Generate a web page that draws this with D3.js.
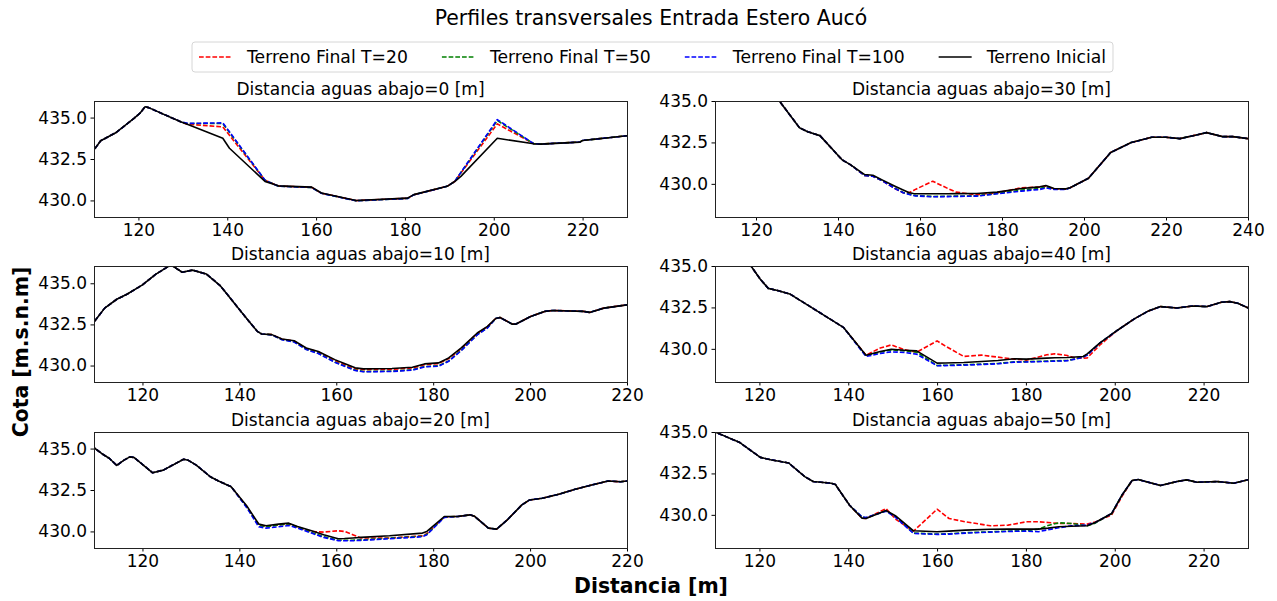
<!DOCTYPE html>
<html>
<head>
<meta charset="utf-8">
<script src="https://cdn.jsdelivr.net/npm/d3@7"></script>
<style>
  body { margin: 0; background: #fff; }
  svg text { font-family: "DejaVu Sans", sans-serif; fill: #000; }
</style>
</head>
<body>
<svg id="fig" width="1277" height="601"></svg>
<script>
// ---- Cross-section data: abscissa [m] and elevation [m.s.n.m] per profile ----

// Profile at 0 m downstream
const x_d0 = [108, 110, 111.5, 115, 119, 120.3, 121.5, 122.3, 129.5, 131, 139, 140.5, 148.5, 151.5, 159, 161.2, 169, 180.6, 182, 189.5, 191.2, 192.6, 200.8, 209, 210.6, 219.4, 220, 230, 232];
const inicial_d0 = [432.6, 433.05, 433.6, 434.1, 434.95, 435.25, 435.65, 435.6, 434.75, 434.6, 433.75, 433.15, 431.15, 430.88, 430.8, 430.45, 430.0, 430.14, 430.35, 430.85, 431.14, 431.45, 433.75, 433.42, 433.4, 433.52, 433.62, 433.9, 433.95];
const t20_d0 = [432.6, 433.05, 433.6, 434.1, 434.95, 435.25, 435.65, 435.6, 434.75, 434.6, 434.44, 433.93, 431.22, 430.87, 430.79, 430.44, 429.99, 430.13, 430.34, 430.85, 431.14, 431.65, 434.62, 433.42, 433.4, 433.52, 433.62, 433.9, 433.95];
const t50_d0 = [432.6, 433.05, 433.6, 434.1, 434.95, 435.25, 435.65, 435.6, 434.75, 434.64, 434.64, 434.1, 431.22, 430.86, 430.78, 430.43, 429.98, 430.12, 430.34, 430.85, 431.14, 431.68, 434.82, 433.42, 433.4, 433.52, 433.62, 433.9, 433.95];
const t100_d0 = [432.6, 433.05, 433.6, 434.1, 434.95, 435.25, 435.65, 435.6, 434.75, 434.65, 434.68, 434.14, 431.22, 430.86, 430.78, 430.43, 429.98, 430.12, 430.34, 430.85, 431.14, 431.69, 434.88, 433.42, 433.4, 433.52, 433.62, 433.9, 433.95];

// Profile at 10 m downstream
const x_d10 = [108, 110.2, 112.2, 114.7, 116.8, 120, 122.7, 125.2, 126.1, 128.2, 130.3, 133.2, 136.1, 139.5, 142, 143.7, 144.6, 146.7, 148.8, 151.3, 153.8, 156.3, 159.7, 162.2, 163.9, 165.6, 171.5, 175.7, 178.2, 181.1, 183.2, 185.8, 189.1, 191.2, 192.9, 193.8, 196.3, 197.1, 200.1, 203, 204.7, 211, 212.3, 215.2, 220, 222];
const inicial_d10 = [432.2, 432.72, 433.49, 434.03, 434.33, 434.9, 435.54, 436.0, 436.08, 435.67, 435.8, 435.56, 434.84, 433.59, 432.68, 432.08, 431.92, 431.88, 431.61, 431.51, 431.07, 430.85, 430.36, 430.06, 429.86, 429.8, 429.82, 429.9, 430.1, 430.16, 430.46, 431.07, 431.98, 432.38, 432.86, 432.92, 432.52, 432.52, 432.98, 433.29, 433.35, 433.29, 433.23, 433.49, 433.69, 433.72];
const t20_d10 = [432.2, 432.72, 433.49, 434.03, 434.33, 434.9, 435.54, 436.0, 436.08, 435.67, 435.8, 435.56, 434.84, 433.59, 432.68, 432.08, 431.92, 431.88, 431.6, 431.49, 431.04, 430.82, 430.31, 430.0, 429.8, 429.75, 429.77, 429.85, 430.05, 430.12, 430.42, 431.03, 431.95, 432.36, 432.86, 432.92, 432.52, 432.52, 432.98, 433.29, 433.35, 433.29, 433.23, 433.49, 433.69, 433.72];
const t50_d10 = [432.2, 432.72, 433.49, 434.03, 434.33, 434.9, 435.54, 436.0, 436.08, 435.67, 435.8, 435.56, 434.84, 433.59, 432.68, 432.08, 431.92, 431.87, 431.58, 431.45, 430.99, 430.75, 430.22, 429.92, 429.72, 429.64, 429.66, 429.74, 429.94, 429.98, 430.28, 430.93, 431.88, 432.3, 432.86, 432.92, 432.52, 432.52, 432.98, 433.29, 433.35, 433.29, 433.23, 433.49, 433.69, 433.72];
const t100_d10 = [432.2, 432.72, 433.49, 434.03, 434.33, 434.9, 435.54, 436.0, 436.08, 435.67, 435.8, 435.56, 434.84, 433.59, 432.68, 432.08, 431.92, 431.86, 431.57, 431.43, 430.97, 430.73, 430.2, 429.9, 429.7, 429.62, 429.64, 429.72, 429.92, 429.96, 430.26, 430.91, 431.87, 432.28, 432.86, 432.92, 432.52, 432.52, 432.98, 433.29, 433.35, 433.29, 433.23, 433.49, 433.69, 433.72];

// Profile at 20 m downstream
const x_d20 = [108, 110, 111.9, 113.2, 114.7, 116.2, 117.4, 118.3, 122.1, 124.3, 128.5, 129.4, 131.1, 134, 135.7, 138.3, 141.5, 144, 145.5, 148.1, 150.2, 152, 154.9, 157.4, 160.4, 161.7, 163.4, 165.1, 171, 177.8, 178.7, 182.3, 185.1, 187.6, 188.5, 191.4, 193.1, 195.3, 198.3, 199.9, 202.5, 205.9, 209.3, 212.7, 216.1, 218.6, 220, 222];
const inicial_d20 = [435.2, 435.05, 434.64, 434.4, 433.98, 434.3, 434.5, 434.46, 433.54, 433.7, 434.36, 434.3, 434.0, 433.3, 433.04, 432.7, 431.55, 430.45, 430.34, 430.44, 430.5, 430.3, 430.04, 429.8, 429.56, 429.57, 429.6, 429.64, 429.74, 429.9, 430.0, 430.9, 430.9, 431.0, 430.92, 430.2, 430.14, 430.7, 431.6, 431.9, 432.0, 432.24, 432.54, 432.8, 433.04, 433.0, 433.04, 433.08];
const t20_d20 = [435.2, 435.05, 434.64, 434.4, 433.98, 434.3, 434.5, 434.46, 433.54, 433.7, 434.36, 434.3, 434.0, 433.3, 433.04, 432.7, 431.5, 430.4, 430.3, 430.4, 430.46, 430.26, 430.0, 429.96, 430.04, 430.0, 429.8, 429.6, 429.6, 429.74, 429.86, 430.88, 430.9, 431.0, 430.92, 430.2, 430.14, 430.7, 431.6, 431.9, 432.0, 432.24, 432.54, 432.8, 433.04, 433.0, 433.04, 433.08];
const t50_d20 = [435.2, 435.05, 434.64, 434.4, 433.98, 434.3, 434.5, 434.46, 433.54, 433.7, 434.36, 434.3, 434.0, 433.3, 433.04, 432.7, 431.48, 430.35, 430.28, 430.38, 430.46, 430.25, 429.94, 429.68, 429.47, 429.47, 429.47, 429.49, 429.59, 429.71, 429.83, 430.87, 430.9, 431.0, 430.92, 430.2, 430.14, 430.7, 431.6, 431.9, 432.0, 432.24, 432.54, 432.8, 433.04, 433.0, 433.04, 433.08];
const t100_d20 = [435.2, 435.05, 434.64, 434.4, 433.98, 434.3, 434.5, 434.46, 433.54, 433.7, 434.36, 434.3, 434.0, 433.3, 433.04, 432.7, 431.45, 430.28, 430.2, 430.28, 430.36, 430.2, 429.9, 429.64, 429.44, 429.44, 429.44, 429.46, 429.56, 429.68, 429.8, 430.85, 430.9, 431.0, 430.92, 430.2, 430.14, 430.7, 431.6, 431.9, 432.0, 432.24, 432.54, 432.8, 433.04, 433.0, 433.04, 433.08];

// Profile at 30 m downstream
const x_d30 = [118, 125.7, 130.6, 132.6, 135.6, 141, 143, 146.5, 148.5, 151, 153.9, 155.9, 157.4, 158.4, 159, 163.1, 166.8, 168.8, 173.8, 178.8, 184.7, 189.2, 190.7, 192.7, 195.6, 196.6, 201.1, 206.5, 211.5, 216.5, 220, 223.4, 227.4, 229.9, 233.8, 236.3, 240, 242];
const inicial_d30 = [437.5, 435.0, 433.39, 433.15, 432.91, 431.45, 431.16, 430.56, 430.52, 430.21, 429.86, 429.63, 429.46, 429.42, 429.4, 429.4, 429.4, 429.41, 429.42, 429.5, 429.72, 429.82, 429.9, 429.72, 429.7, 429.76, 430.34, 431.89, 432.49, 432.81, 432.81, 432.73, 432.95, 433.09, 432.85, 432.85, 432.73, 432.7];
const t20_d30 = [437.5, 435.0, 433.39, 433.15, 432.91, 431.45, 431.16, 430.5, 430.46, 430.16, 429.72, 429.46, 429.48, 429.6, 429.68, 430.16, 429.72, 429.5, 429.34, 429.46, 429.76, 429.8, 429.86, 429.7, 429.68, 429.76, 430.34, 431.89, 432.49, 432.81, 432.81, 432.73, 432.95, 433.09, 432.85, 432.85, 432.73, 432.7];
const t50_d30 = [437.5, 435.0, 433.39, 433.15, 432.91, 431.45, 431.16, 430.51, 430.47, 430.17, 429.74, 429.48, 429.38, 429.32, 429.29, 429.24, 429.25, 429.26, 429.28, 429.42, 429.62, 429.72, 429.8, 429.68, 429.67, 429.76, 430.34, 431.89, 432.49, 432.81, 432.81, 432.73, 432.95, 433.09, 432.85, 432.85, 432.73, 432.7];
const t100_d30 = [437.5, 435.0, 433.39, 433.15, 432.91, 431.45, 431.16, 430.5, 430.46, 430.16, 429.72, 429.46, 429.36, 429.3, 429.27, 429.22, 429.23, 429.24, 429.26, 429.4, 429.56, 429.66, 429.76, 429.66, 429.66, 429.76, 430.34, 431.89, 432.49, 432.81, 432.81, 432.73, 432.95, 433.09, 432.85, 432.85, 432.73, 432.7];

// Profile at 40 m downstream
const x_d40 = [116, 118.1, 120.2, 122, 124.3, 127, 138, 138.9, 144, 147.2, 149.7, 152.7, 155.4, 160, 161.8, 166, 170, 173.7, 177.4, 180.1, 184.7, 186.5, 189.3, 191.1, 192.9, 193.8, 196.6, 200.7, 204.4, 207.6, 210.3, 214, 217.6, 220.8, 224, 225.9, 227.7, 230.2, 232];
const inicial_d40 = [435.8, 435.0, 434.2, 433.65, 433.51, 433.29, 431.45, 431.3, 429.62, 429.84, 429.98, 429.92, 429.88, 429.14, 429.15, 429.18, 429.24, 429.3, 429.4, 429.38, 429.44, 429.46, 429.48, 429.51, 429.54, 429.7, 430.34, 431.14, 431.81, 432.29, 432.55, 432.47, 432.59, 432.55, 432.81, 432.85, 432.75, 432.45, 432.2];
const t20_d40 = [435.8, 435.0, 434.2, 433.65, 433.51, 433.29, 431.45, 431.3, 429.62, 430.05, 430.24, 429.94, 429.8, 430.48, 430.18, 429.54, 429.62, 429.5, 429.38, 429.32, 429.64, 429.7, 429.6, 429.44, 429.44, 429.45, 430.22, 431.14, 431.81, 432.29, 432.55, 432.47, 432.59, 432.55, 432.81, 432.85, 432.75, 432.45, 432.2];
const t50_d40 = [435.8, 435.0, 434.2, 433.65, 433.51, 433.29, 431.45, 431.3, 429.58, 429.8, 429.94, 429.88, 429.8, 429.0, 429.01, 429.04, 429.08, 429.12, 429.22, 429.23, 429.26, 429.28, 429.3, 429.4, 429.52, 429.64, 430.34, 431.14, 431.81, 432.29, 432.55, 432.47, 432.59, 432.55, 432.81, 432.85, 432.75, 432.45, 432.2];
const t100_d40 = [435.8, 435.0, 434.2, 433.65, 433.51, 433.29, 431.45, 431.3, 429.54, 429.72, 429.82, 429.78, 429.68, 428.98, 428.99, 429.02, 429.06, 429.1, 429.2, 429.21, 429.24, 429.26, 429.28, 429.38, 429.5, 429.62, 430.34, 431.14, 431.81, 432.29, 432.55, 432.47, 432.59, 432.55, 432.81, 432.85, 432.75, 432.45, 432.2];

// Profile at 50 m downstream
const x_d50 = [108, 110, 115.6, 120.2, 122.5, 126.6, 130.2, 132.1, 136.2, 137.1, 140.3, 143.1, 144, 148.5, 150.6, 154.7, 160, 162.7, 166.4, 172, 176, 180.1, 182.8, 185, 187.4, 190.2, 193.8, 195.6, 199.3, 201.6, 203.9, 205.3, 210.3, 214, 216.2, 218.5, 223.1, 226.8, 230.2, 232];
const inicial_d50 = [435.25, 435.0, 434.36, 433.47, 433.33, 433.13, 432.31, 432.01, 431.91, 431.83, 430.58, 429.8, 429.78, 430.26, 429.95, 429.04, 428.98, 429.02, 429.08, 429.13, 429.14, 429.14, 429.14, 429.2, 429.28, 429.31, 429.34, 429.54, 430.08, 431.18, 432.07, 432.13, 431.77, 432.01, 432.11, 431.97, 432.01, 431.91, 432.13, 432.2];
const t20_d50 = [435.25, 435.0, 434.36, 433.47, 433.33, 433.13, 432.31, 432.01, 431.91, 431.83, 430.58, 429.8, 429.78, 430.38, 429.75, 429.02, 430.34, 429.78, 429.58, 429.34, 429.38, 429.58, 429.58, 429.54, 429.48, 429.48, 429.44, 429.56, 430.0, 431.1, 432.07, 432.13, 431.77, 432.01, 432.11, 431.97, 432.01, 431.91, 432.13, 432.2];
const t50_d50 = [435.25, 435.0, 434.36, 433.47, 433.33, 433.13, 432.31, 432.01, 431.91, 431.83, 430.58, 429.86, 429.82, 430.24, 429.9, 428.9, 428.84, 428.86, 428.92, 428.98, 429.02, 429.04, 429.14, 429.36, 429.52, 429.48, 429.34, 429.5, 430.08, 431.18, 432.07, 432.13, 431.77, 432.01, 432.11, 431.97, 432.01, 431.91, 432.13, 432.2];
const t100_d50 = [435.25, 435.0, 434.36, 433.47, 433.33, 433.13, 432.31, 432.01, 431.91, 431.83, 430.58, 429.88, 429.84, 430.22, 429.86, 428.88, 428.82, 428.84, 428.9, 428.96, 429.0, 429.02, 428.98, 429.1, 429.22, 429.34, 429.38, 429.54, 430.08, 431.18, 432.07, 432.13, 431.77, 432.01, 432.11, 431.97, 432.01, 431.91, 432.13, 432.2];

// Tick values and labels
const xTicksTo220 = [120, 140, 160, 180, 200, 220];
const xTicksTo240 = [120, 140, 160, 180, 200, 220, 240];
const yTickValues = [430.0, 432.5, 435.0];
const seriesLabels = ["Terreno Final T=20", "Terreno Final T=50", "Terreno Final T=100", "Terreno Inicial"];
const seriesColors = ["#ff0000", "#008000", "#0000ff", "#000000"];

// ---- Layout ----
const svg = d3.select("#fig");
const colX = [94, 715];
const rowY = [101, 266, 432];
const plotW = 533, plotH = 116;

const panels = [
  { title: "Distancia aguas abajo=0 [m]",  col: 0, row: 0, x: x_d0,  series: [t20_d0,  t50_d0,  t100_d0,  inicial_d0],  xDom: [110, 230], yDom: [429.0, 436.0],  xt: xTicksTo220 },
  { title: "Distancia aguas abajo=30 [m]", col: 1, row: 0, x: x_d30, series: [t20_d30, t50_d30, t100_d30, inicial_d30], xDom: [110, 240], yDom: [428.0, 435.0],  xt: xTicksTo240 },
  { title: "Distancia aguas abajo=10 [m]", col: 0, row: 1, x: x_d10, series: [t20_d10, t50_d10, t100_d10, inicial_d10], xDom: [110, 220], yDom: [429.0, 436.05], xt: xTicksTo220 },
  { title: "Distancia aguas abajo=40 [m]", col: 1, row: 1, x: x_d40, series: [t20_d40, t50_d40, t100_d40, inicial_d40], xDom: [110, 230], yDom: [428.0, 435.0],  xt: xTicksTo220 },
  { title: "Distancia aguas abajo=20 [m]", col: 0, row: 2, x: x_d20, series: [t20_d20, t50_d20, t100_d20, inicial_d20], xDom: [110, 220], yDom: [429.0, 436.0],  xt: xTicksTo220 },
  { title: "Distancia aguas abajo=50 [m]", col: 1, row: 2, x: x_d50, series: [t20_d50, t50_d50, t100_d50, inicial_d50], xDom: [110, 230], yDom: [428.0, 435.0],  xt: xTicksTo220 }
];

const dashes = ["4.7,2", "4.7,2", "4.7,2", null];

panels.forEach((p, i) => {
  const g = svg.append("g").attr("transform", `translate(${colX[p.col]},${rowY[p.row]})`);
  const xs = d3.scaleLinear().domain(p.xDom).range([0, plotW]);
  const ys = d3.scaleLinear().domain(p.yDom).range([plotH, 0]);

  g.append("clipPath").attr("id", "clip" + i)
    .append("rect").attr("width", plotW).attr("height", plotH);
  const plot = g.append("g").attr("clip-path", `url(#clip${i})`);

  const line = d3.line().x((d, j) => xs(p.x[j])).y(d => ys(d));
  p.series.forEach((vals, k) => {
    const path = plot.append("path").datum(vals)
      .attr("d", line)
      .attr("fill", "none")
      .attr("stroke", seriesColors[k])
      .attr("stroke-width", 1.6)
      .attr("stroke-linejoin", "round");
    if (dashes[k]) path.attr("stroke-dasharray", dashes[k]);
  });

  // Axes
  const gx = g.append("g").attr("transform", `translate(0,${plotH})`)
    .call(d3.axisBottom(xs).tickValues(p.xt).tickSize(3.5).tickPadding(3.5).tickFormat(d3.format("d")));
  const gy = g.append("g")
    .call(d3.axisLeft(ys).tickValues(yTickValues).tickSize(3.5).tickPadding(3.5).tickFormat(d3.format(".1f")));
  [gx, gy].forEach(a => {
    a.select(".domain").remove();
    a.attr("font-size", 17).attr("font-family", "DejaVu Sans");
    a.selectAll(".tick line").attr("stroke", "#000").attr("stroke-width", 1);
    a.selectAll(".tick text").attr("fill", "#000");
  });

  // Frame
  g.append("rect").attr("x", 0).attr("y", 0).attr("width", plotW).attr("height", plotH)
    .attr("fill", "none").attr("stroke", "#222").attr("stroke-width", 1)
    .attr("shape-rendering", "crispEdges");

  // Panel title
  g.append("text").attr("x", plotW / 2).attr("y", -6)
    .attr("text-anchor", "middle").attr("font-size", 17).text(p.title);
});

// Figure title
svg.append("text").attr("x", 651).attr("y", 25).attr("text-anchor", "middle")
  .attr("font-size", 20.4).text("Perfiles transversales Entrada Estero Aucó");

// Axis labels
svg.append("text").attr("x", 651).attr("y", 593).attr("text-anchor", "middle")
  .attr("font-size", 20.4).attr("font-weight", "bold").text("Distancia [m]");
svg.append("text").attr("transform", "translate(28,352) rotate(-90)")
  .attr("text-anchor", "middle").attr("font-size", 20.4).attr("font-weight", "bold")
  .text("Cota [m.s.n.m]");

// Legend
const lg = svg.append("g");
const box = lg.append("rect").attr("x", 192).attr("y", 42).attr("height", 30).attr("rx", 3)
  .attr("fill", "#fff").attr("stroke", "#d6d6d6").attr("stroke-width", 1);
let cx = 199;
seriesLabels.forEach((lab, k) => {
  const ln = lg.append("line").attr("x1", cx).attr("x2", cx + 33).attr("y1", 57).attr("y2", 57)
    .attr("stroke", seriesColors[k]).attr("stroke-width", 1.6);
  if (dashes[k]) ln.attr("stroke-dasharray", dashes[k]);
  const t = lg.append("text").attr("x", cx + 48).attr("y", 63).attr("font-size", 17.2).text(lab);
  const w = t.node().getComputedTextLength();
  cx = cx + 48 + w + 34;
});
box.attr("width", cx - 34 + 7 - 192);
</script>
</body>
</html>
